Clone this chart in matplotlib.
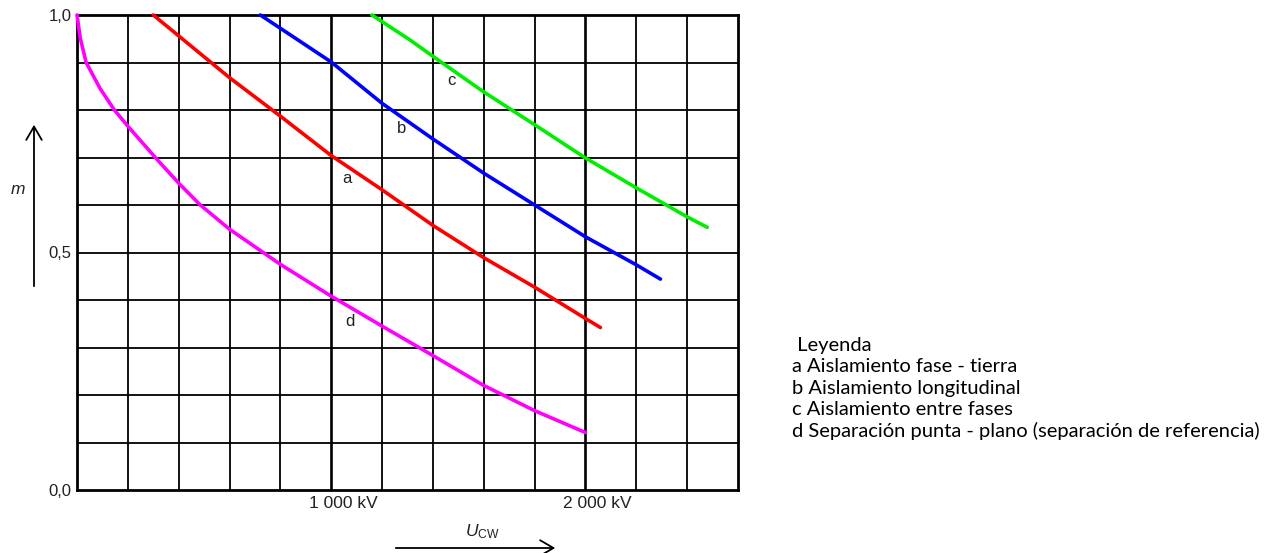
import matplotlib
matplotlib.use("Agg")
import matplotlib.pyplot as plt
from matplotlib.patches import FancyArrowPatch

# Curve data: U_cw (kV) vs factor m
a_kv = [300, 400, 600, 800, 1000, 1200, 1400, 1600, 1800, 2000, 2059]
a_m = [1.0, 0.956, 0.868, 0.787, 0.704, 0.632, 0.557, 0.489, 0.427, 0.361, 0.342]

b_kv = [721, 800, 1000, 1200, 1400, 1600, 1800, 2000, 2200, 2295]
b_m = [1.0, 0.972, 0.901, 0.814, 0.739, 0.667, 0.600, 0.533, 0.474, 0.444]

c_kv = [1160, 1311, 1400, 1600, 1800, 2000, 2200, 2400, 2479]
c_m = [1.0, 0.947, 0.913, 0.838, 0.769, 0.699, 0.636, 0.575, 0.553]

d_kv = [0, 13, 36, 90, 147, 200, 308, 400, 485, 600, 800, 1000, 1200, 1400, 1600, 1800, 2000]
d_m = [1.0, 0.951, 0.90, 0.846, 0.80, 0.766, 0.70, 0.646, 0.60, 0.549, 0.475, 0.408, 0.345, 0.283, 0.220, 0.167, 0.121]

curve_names = ["a", "b", "c", "d"]
curve_colors = ["#ff0000", "#0000ff", "#00ee00", "#ff00ff"]
label_pos = [(1061, 0.656), (1277, 0.761), (1471, 0.863), (1074, 0.354)]

y_ticks = [0.0, 0.5, 1.0]
y_tick_labels = ["0,0", "0,5", "1,0"]
x_ticks = [1000, 2000]
x_tick_labels = ["1 000 kV", "2 000 kV"]

legend_lines = [
    " Leyenda",
    "a Aislamiento fase - tierra",
    "b Aislamiento longitudinal",
    "c Aislamiento entre fases",
    "d Separación punta - plano (separación de referencia)",
]

plt.rcParams["font.family"] = ["Liberation Sans", "DejaVu Sans"]
plt.rcParams["mathtext.fontset"] = "custom"
plt.rcParams["mathtext.rm"] = "Liberation Sans"
plt.rcParams["mathtext.it"] = "Liberation Sans:italic"

W, H = 1268, 553
fig = plt.figure(figsize=(W / 100, H / 100), dpi=100)
ax = fig.add_axes([77 / W, 1 - 490 / H, (738 - 77) / W, (490 - 15) / H])
ax.set_xlim(0, 2600)
ax.set_ylim(0, 1.0)

# grid: 200 kV by 0.1
for xv in range(200, 2600, 200):
    lw = 1.9 if xv in (1000, 2000) else 1.3
    ax.axvline(xv, color="black", lw=lw, zorder=1)
for i in range(1, 10):
    ax.axhline(i / 10, color="black", lw=1.3, zorder=1)
for s in ax.spines.values():
    s.set_linewidth(2.0)

# curves
for kv, m, col in zip([a_kv, b_kv, c_kv, d_kv], [a_m, b_m, c_m, d_m], curve_colors):
    ax.plot(kv, m, color=col, lw=2.6, solid_capstyle="round",
            solid_joinstyle="round", zorder=3, clip_on=False)

for name, (xp, yp) in zip(curve_names, label_pos):
    ax.text(xp, yp, name, fontsize=12, ha="center", va="center",
            color="#222222", zorder=4)

ax.set_yticks(y_ticks)
ax.set_yticklabels(y_tick_labels, fontsize=12, color="#222222")
ax.tick_params(axis="y", length=0, pad=4)
ax.set_xticks([])
for xv, lab in zip(x_ticks, x_tick_labels):
    ax.annotate(lab, xy=(xv, 0), xycoords="data", xytext=(-22, -14),
                textcoords="offset pixels", ha="left", va="center",
                fontsize=12.5, color="#222222")

# axis arrows and names
fig.add_artist(FancyArrowPatch(
    (34 / W, 1 - 289 / H), (34 / W, 1 - 122 / H), transform=fig.transFigure,
    arrowstyle="->,head_length=6,head_width=3.5", lw=1.3, color="black",
    mutation_scale=1.6))
fig.text(18 / W, 1 - 189 / H, "m", style="italic", fontsize=12.5,
         ha="center", va="center", color="#222222")

fig.add_artist(FancyArrowPatch(
    (393 / W, 1 - 548 / H), (558 / W, 1 - 548 / H), transform=fig.transFigure,
    arrowstyle="->,head_length=6,head_width=3.5", lw=1.3, color="black",
    mutation_scale=1.6))
fig.text(482 / W, 1 - 532 / H, r"$U_{\mathrm{CW}}$", fontsize=12.5,
         ha="center", va="center", color="#222222")

# legend block
for i, line in enumerate(legend_lines):
    fig.text(792 / W, 1 - (345 + 21.6 * i) / H, line, fontsize=14.5,
             family=["Lato", "DejaVu Sans"], ha="left", va="center", color="black")

fig.savefig("out.png", dpi=100)
